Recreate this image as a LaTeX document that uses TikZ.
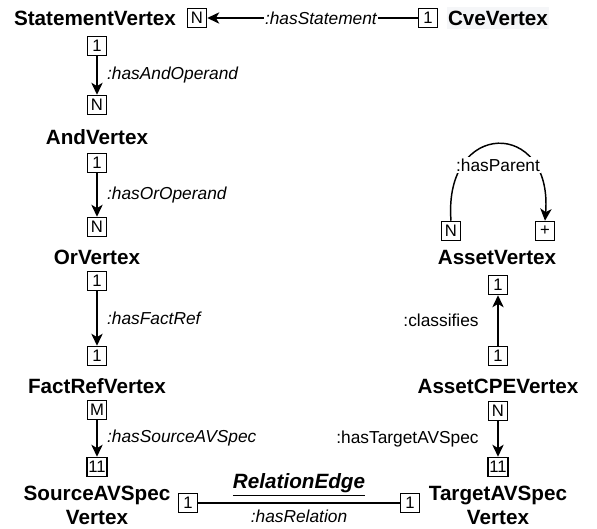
\documentclass[tikz,border=0pt]{standalone}
\usepackage{fontspec}
\setmainfont{Liberation Sans}
\usetikzlibrary{arrows.meta}
\definecolor{cvebg}{RGB}{245,246,248}
\begin{document}
\begin{tikzpicture}[x=0.75pt,y=-0.75pt,
  vtx/.style={font=\fontsize{15.5}{18}\selectfont\bfseries, inner sep=0pt, align=center},
  card/.style={draw, line width=0.9pt, minimum width=14.5pt, minimum height=14.5pt, inner sep=1pt, font=\fontsize{12.5}{13}\selectfont},
  rel/.style={line width=1.1pt},
  arr/.style={rel, -{Stealth[length=9pt,width=8.5pt,inset=2.5pt]}},
  lab/.style={font=\fontsize{13}{14}\selectfont\itshape, inner sep=1pt},
  labn/.style={font=\fontsize{13}{14}\selectfont, inner sep=1pt},
]
\useasboundingbox (0,0) rectangle (597,529);
% top row
\node[vtx] (sv) at (95,18) {StatementVertex};
\node[card] (svN) at (197,18) {N};
\node[card] (cv1) at (428,18) {1};
\node[vtx, fill=cvebg, inner xsep=1pt, inner ysep=3pt] (cv) at (498,18) {CveVertex};
\draw[arr] (cv1) -- node[lab, fill=white, pos=0.46] {:hasStatement} (svN);
% left column
\node[card] (sv1) at (97,46) {1};
\node[card] (andN) at (97,105) {N};
\draw[arr] (sv1) -- node[lab, right=6pt] {:hasAndOperand} (andN);
\node[vtx] (and) at (97,137) {AndVertex};
\node[card] (and1) at (97,163) {1};
\node[card] (orN) at (97,227) {N};
\draw[arr] (and1) -- node[lab, right=6pt] {:hasOrOperand} (orN);
\node[vtx] (or) at (97,257) {OrVertex};
\node[card] (or1) at (97,281) {1};
\node[card] (fr1) at (97,356) {1};
\draw[arr] (or1) -- node[lab, right=6pt] {:hasFactRef} (fr1);
\node[vtx] (fr) at (97,386) {FactRefVertex};
\node[card] (frM) at (97,410) {M};
\node[card] (src11) at (97,467) {11};
\draw[arr] (frM) -- node[lab, right=6pt] {:hasSourceAVSpec} (src11);
\node[vtx] (src) at (97,505) {SourceAVSpec\\Vertex};
% relation edge
\node[card] (rs1) at (188,503) {1};
\node[card] (rt1) at (410,503) {1};
\draw[rel] (rs1) -- node[above=4pt, font=\fontsize{15.5}{18}\selectfont\bfseries\itshape, inner sep=1pt] {\underline{RelationEdge}}
  node[lab, below=4pt] {:hasRelation} (rt1);
% right column
\node[vtx] (tgt) at (498,505) {TargetAVSpec\\Vertex};
\node[card] (tgt11) at (498,467) {11};
\node[card] (cpeN) at (498,411) {N};
\draw[arr] (cpeN) -- node[labn, left=13pt] {:hasTargetAVSpec} (tgt11);
\node[vtx] (cpe) at (498,386) {AssetCPEVertex};
\node[card] (cpe1) at (498,356) {1};
\node[card] (av1) at (498,285) {1};
\draw[arr] (cpe1) -- node[labn, left=13pt] {:classifies} (av1);
\node[vtx] (asset) at (497,257) {AssetVertex};
\node[card] (aN) at (451,231) {N};
\node[card] (aP) at (545,231) {+};
\draw[arr] (aN.north) .. controls +(-8,-102) and +(8,-102) .. (aP.north);
\node[labn, fill=white] (hp) at (498,165) {:hasParent};
\end{tikzpicture}
\end{document}
